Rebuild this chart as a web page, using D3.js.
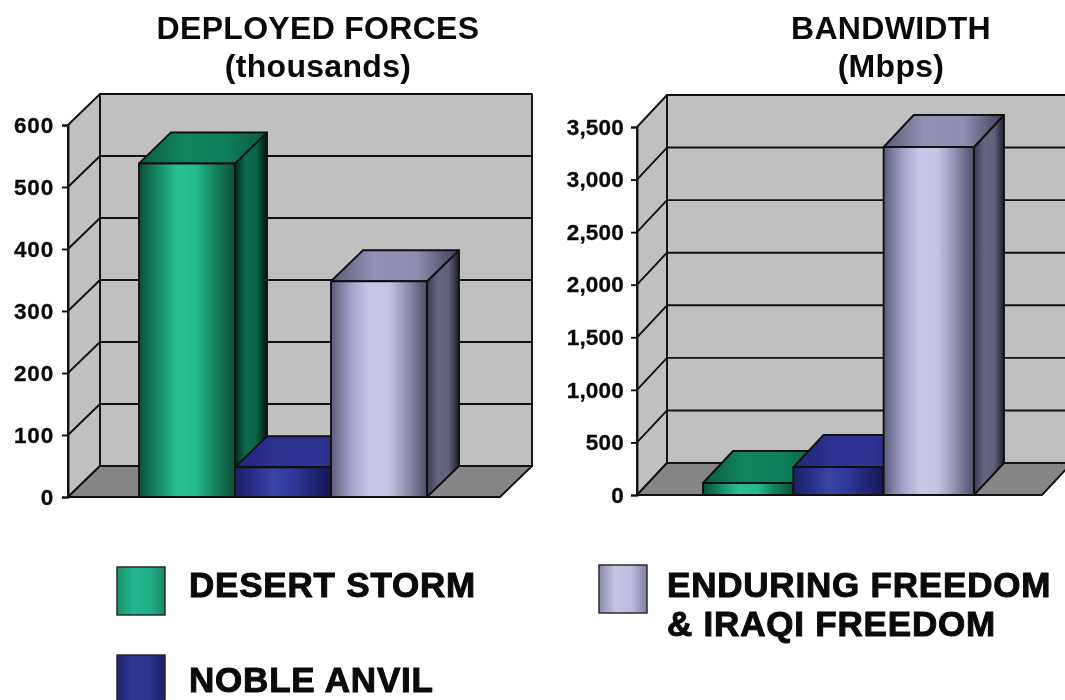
<!DOCTYPE html>
<html><head><meta charset="utf-8">
<script src="https://cdn.jsdelivr.net/npm/d3@7"></script>
<style>
html,body{margin:0;padding:0;background:#fff;overflow:hidden}
svg{display:block;filter:blur(0.45px)}
text{font-family:"Liberation Sans",Arial,sans-serif;font-weight:700;fill:#0a0a0a}
</style></head><body>
<svg id="c" width="1065" height="700"></svg>
<script>
const categories = ["DESERT STORM","NOBLE ANVIL","ENDURING FREEDOM & IRAQI FREEDOM"];
const forcesValues = [538, 48, 348];
const bandwidthValues = [114, 266, 3310];
const forcesTicks = [0,100,200,300,400,500,600];
const bandwidthTicks = [0,500,1000,1500,2000,2500,3000,3500];
const forcesTitle = ["DEPLOYED FORCES","(thousands)"];
const bandwidthTitle = ["BANDWIDTH","(Mbps)"];
const shades = {
  "DESERT STORM":{front:["#0b4f3b","#178a66","#28c093","#25b98c","#128058","#0a4f3b"],top:["#0a5a42","#11855f","#0f7f5c","#0a5a42"],side:["#02281d","#0e6a4e","#0d6449","#01150f"],swatch:["#1c8f6c","#22b88c","#20b086","#1a8a68"]},
  "NOBLE ANVIL":{front:["#1b1f63","#2a2f8b","#3a44a4","#30379a","#222678","#141650"],top:["#22257a","#2f3290","#2f3290","#1d2068"],side:["#11134a","#232672","#232672","#0b0c30"],swatch:["#20246e","#2f3795","#2c3390","#1d2068"]},
  "ENDURING FREEDOM & IRAQI FREEDOM":{front:["#5c5c78","#9f9fc6","#c9c7e6","#c6c4e2","#8e8dae","#4e4e68"],top:["#5a5a76","#9391b5","#8f8eb0","#3f3f56"],side:["#3a3a50","#65657f","#62627c","#1e1e2c"],swatch:["#8a8aae","#c6c5e3","#bdbcdc","#8080a4"]}
};
const svg = d3.select("#c");
const defs = svg.append("defs");
Object.entries(shades).forEach(([k,s],i)=>{
  ["front","top","side","swatch"].forEach(part=>{
    const g = defs.append("linearGradient").attr("id",`g${i}${part}`).attr("x1",0).attr("x2",1).attr("y1",0).attr("y2",0);
    s[part].forEach((c,j)=>g.append("stop").attr("offset",j/(s[part].length-1)).attr("stop-color",c));
  });
});
function chart(o){
  const g = svg.append("g");
  const y = d3.scaleLinear().domain(o.domain).range([o.y0,o.y1]);
  const x = d3.scaleBand().domain(categories).range(o.band).padding(0);
  const {dx,dy,x0,x1} = o;
  const yT = y.range()[1], yB = y.range()[0];
  const poly = pts=>pts.map(p=>p.join(",")).join(" ");
  const ln = {stroke:"#111","stroke-width":1.9,"stroke-linejoin":"round"};
  const S = sel=>{Object.entries(ln).forEach(([k,v])=>sel.attr(k,v));return sel;};
  // walls
  S(g.append("polygon").attr("points",poly([[x0+dx,yT-dy],[x1+dx,yT-dy],[x1+dx,yB-dy],[x0+dx,yB-dy]])).attr("fill","#c0c0c0"));
  S(g.append("polygon").attr("points",poly([[x0,yT],[x0+dx,yT-dy],[x0+dx,yB-dy],[x0,yB]])).attr("fill","#c0c0c0"));
  S(g.append("polygon").attr("points",poly([[x0,yB],[x0+dx,yB-dy],[x1+dx,yB-dy],[x1,yB]])).attr("fill","#868686"));
  // gridlines
  o.ticks.slice(1,-1).forEach(t=>{
    S(g.append("polyline").attr("fill","none").attr("points",poly([[x0,y(t)],[x0+dx,y(t)-dy],[x1+dx,y(t)-dy]])));
  });
  // axis
  const ax = g.append("g").attr("transform",`translate(${x0},0)`)
    .call(d3.axisLeft(y).tickValues(o.ticks).tickSize(6).tickPadding(o.pad).tickFormat(d3.format(",")));
  ax.select(".domain").attr("stroke","#111").attr("stroke-width",1.9);
  ax.selectAll(".tick line").attr("stroke","#111").attr("stroke-width",1.9);
  ax.selectAll("text").style("font-size","22.5px").style("font-family",'"Liberation Sans",Arial,sans-serif').style("font-weight",700)
    .attr("fill","#0a0a0a").style("letter-spacing",o.ls+"px").attr("stroke","#0a0a0a").attr("stroke-width",0.3);
  // bars
  o.values.forEach((v,i)=>{
    const c = categories[i], l = x(c), r = l + x.bandwidth(), t = y(v);
    S(g.append("polygon").attr("points",poly([[r,t],[r+dx,t-dy],[r+dx,yB-dy],[r,yB]])).attr("fill",`url(#g${i}side)`));
    S(g.append("polygon").attr("points",poly([[l,t],[l+dx,t-dy],[r+dx,t-dy],[r,t]])).attr("fill",`url(#g${i}top)`));
    S(g.append("rect").attr("x",l).attr("y",t).attr("width",x.bandwidth()).attr("height",yB-t).attr("fill",`url(#g${i}front)`));
  });
  // title
  o.title.forEach((s,i)=>g.append("text").attr("x",o.tx).attr("y",39+i*38).attr("text-anchor","middle").attr("font-size",32).attr("letter-spacing",0.3).text(s));
}
chart({domain:[0,600],y0:497,y1:125,x0:68,x1:500,dx:32,dy:31,band:[139,427],values:forcesValues,ticks:forcesTicks,title:forcesTitle,tx:318,pad:8,ls:0.8});
chart({domain:[0,3500],y0:495,y1:127,x0:637,x1:1042,dx:30,dy:32,band:[703,974],values:bandwidthValues,ticks:bandwidthTicks,title:bandwidthTitle,tx:891,pad:7,ls:0.2});
// legend
const legendSwatches = [[117,567,0],[117,655,1],[599,565,2]];
legendSwatches.forEach(([lx,ly,i])=>{
  svg.append("rect").attr("x",lx).attr("y",ly).attr("width",48).attr("height",48)
    .attr("fill",`url(#g${i}swatch)`).attr("stroke","#222").attr("stroke-width",1.4);
});
const legendLabels = [["DESERT STORM",189,597],["NOBLE ANVIL",189,692],["ENDURING FREEDOM",667,597],["& IRAQI FREEDOM",667,636]];
legendLabels.forEach(([s,lx,ly])=>{
  svg.append("text").attr("x",lx).attr("y",ly).attr("font-size",35).attr("letter-spacing",0.8)
    .attr("stroke","#0a0a0a").attr("stroke-width",1).text(s);
});
</script>
</body></html>
